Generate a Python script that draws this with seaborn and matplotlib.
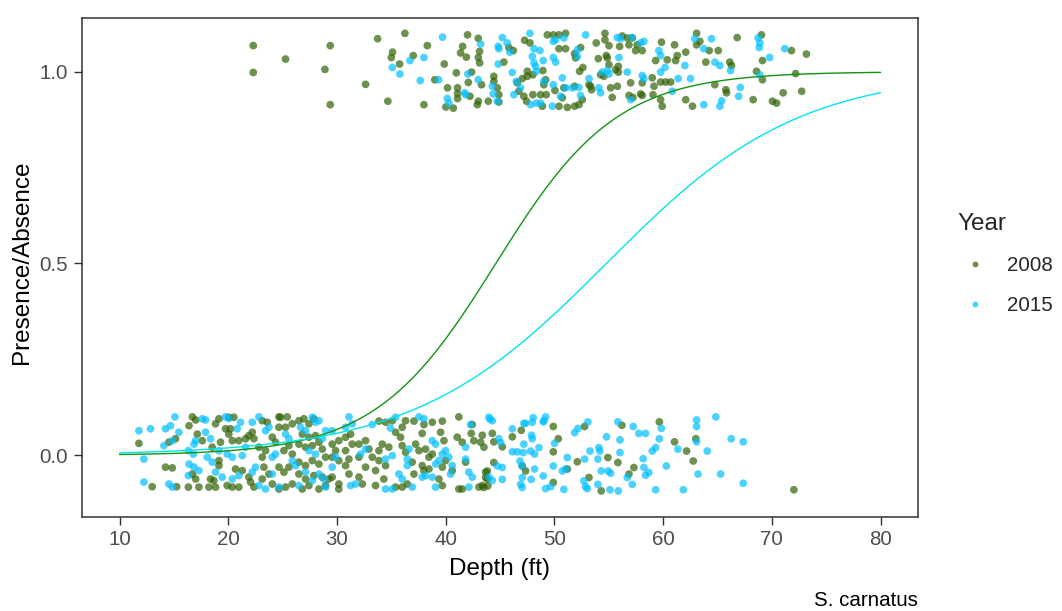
import numpy as np
import pandas as pd
import matplotlib
matplotlib.use("Agg")
import matplotlib.pyplot as plt
import seaborn as sns
from matplotlib.lines import Line2D

# ---- survey data: depth (ft) and jittered presence/absence value ----
years = ["2008", "2015"]

present_2008 = [
    (22.30, 1.068), (29.38, 1.068), (25.27, 1.033), (22.30, 0.998), (28.89, 1.006),
    (32.63, 0.967), (29.38, 0.914), (33.74, 1.086), (36.25, 1.100), (34.68, 0.923),
    (35.11, 1.051), (35.00, 1.037), (37.02, 1.042), (35.76, 1.020), (38.31, 1.068),
    (38.00, 0.914), (39.87, 1.020), (40.98, 0.997), (42.01, 1.096), (41.56, 1.066),
    (41.37, 1.049), (41.90, 1.038), (43.00, 1.087), (43.12, 1.053), (43.00, 1.037),
    (43.12, 1.023), (42.38, 0.999), (39.00, 0.979), (40.17, 0.958), (41.09, 0.958),
    (41.09, 0.943), (41.09, 0.930), (42.08, 0.972), (43.30, 0.966), (42.23, 0.936),
    (43.00, 0.923), (43.92, 0.923), (40.02, 0.908), (40.70, 0.905), (42.91, 0.914),
    (44.43, 0.988), (44.43, 0.975), (44.75, 0.958), (44.89, 0.940), (44.89, 0.921),
    (45.81, 1.063), (46.22, 1.055), (47.26, 1.082), (47.75, 1.075), (49.35, 1.096),
    (49.90, 1.096), (50.42, 1.096), (51.03, 1.100), (50.42, 1.060), (51.03, 1.060),
    (51.86, 1.047), (45.35, 1.025), (47.51, 1.001), (48.02, 0.992), (48.94, 1.003),
    (47.05, 0.982), (46.58, 0.971), (47.51, 0.988), (49.19, 0.979), (49.03, 0.966),
    (46.73, 0.949), (47.19, 0.936), (48.02, 0.940), (48.73, 0.940), (49.25, 0.940),
    (50.05, 0.951), (50.73, 0.932), (50.87, 0.958), (51.86, 0.962), (47.44, 0.923),
    (48.89, 0.910), (50.42, 0.910), (51.19, 0.907), (51.86, 0.910), (51.95, 1.036),
    (54.65, 1.100), (54.65, 1.083), (53.85, 1.075), (52.41, 1.063), (56.24, 1.093),
    (56.70, 1.088), (57.16, 1.088), (56.00, 1.066), (56.86, 1.070), (57.62, 1.070),
    (55.02, 1.068), (59.85, 1.077), (57.47, 1.055), (58.08, 1.055), (61.05, 1.070),
    (62.08, 1.051), (61.30, 1.042), (63.08, 1.100), (63.38, 1.079), (63.08, 1.070),
    (64.24, 1.055), (65.07, 1.055), (66.81, 1.089), (69.05, 1.096), (71.81, 1.055),
    (54.04, 1.034), (54.77, 1.042), (54.87, 1.036), (55.02, 1.018), (55.88, 1.014),
    (59.31, 1.029), (60.38, 1.031), (61.15, 1.029), (63.93, 1.025), (66.13, 1.025),
    (66.29, 1.016), (69.14, 1.029), (52.62, 1.011), (52.32, 1.001), (54.25, 0.992),
    (54.55, 0.988), (55.63, 1.005), (55.88, 0.999), (57.01, 0.971), (58.08, 0.971),
    (59.00, 0.984), (59.77, 0.973), (60.23, 0.973), (60.69, 0.973), (59.16, 0.962),
    (53.33, 0.962), (53.42, 0.953), (55.17, 0.958), (55.79, 0.962), (55.32, 0.933),
    (56.86, 0.938), (57.22, 0.933), (57.93, 0.942), (58.08, 0.938), (59.07, 0.940),
    (59.77, 0.927), (59.92, 0.910), (62.08, 0.927), (62.70, 0.910), (64.76, 0.966),
    (65.77, 0.953), (65.83, 0.945), (68.28, 0.927), (68.59, 1.001), (69.14, 0.979),
    (70.06, 0.923), (70.43, 0.918), (71.04, 0.945), (72.75, 0.949), (52.26, 0.914),
    (52.57, 0.927), (53.18, 0.966), (73.18, 1.046), (72.19, 0.995),
]

absent_2008 = [
    (11.78, 0.031), (13.00, -0.082), (14.23, -0.031), (14.85, -0.033), (14.54, 0.034),
    (15.15, 0.043), (16.39, 0.077), (16.70, 0.100), (16.33, -0.083), (15.25, -0.082),
    (17.00, -0.062), (16.70, -0.049), (17.00, 0.092), (17.15, 0.055), (17.61, 0.038),
    (17.30, -0.083), (18.37, -0.062), (18.67, -0.066), (18.22, -0.083), (18.83, -0.083),
    (18.83, 0.082), (19.14, 0.095), (18.52, 0.021), (19.29, 0.034), (19.14, -0.014),
    (19.14, -0.027), (19.75, 0.069), (20.21, 0.069), (20.05, 0.055), (20.37, 0.038),
    (20.05, 0.099), (20.51, 0.099), (20.97, 0.038), (21.59, 0.043), (20.67, -0.036),
    (21.29, -0.040), (20.37, -0.083), (20.97, -0.083), (19.90, -0.079), (21.89, 0.051),
    (22.21, 0.060), (22.36, 0.043), (21.89, -0.057), (22.05, -0.070), (22.36, -0.083),
    (23.13, 0.090), (23.59, 0.086), (22.82, 0.021), (23.43, 0.012), (23.13, -0.005),
    (23.28, -0.031), (23.74, -0.049), (23.13, -0.062), (24.05, 0.047), (24.35, 0.034),
    (24.66, 0.100), (24.81, 0.099), (25.42, 0.100), (24.66, 0.073), (25.27, 0.073),
    (25.89, 0.082), (25.12, 0.012), (25.58, 0.025), (25.89, 0.003), (24.66, -0.031),
    (25.12, -0.044), (25.58, -0.031), (24.05, -0.075), (24.66, -0.088), (25.27, -0.083),
    (25.89, -0.075), (26.50, 0.090), (26.96, 0.095), (27.42, 0.082), (27.88, 0.095),
    (26.81, 0.055), (27.42, 0.047), (28.03, 0.051), (26.50, 0.029), (27.11, 0.021),
    (27.73, 0.025), (28.34, 0.034), (28.65, 0.016), (26.50, -0.018), (27.11, -0.027),
    (27.73, -0.014), (28.34, -0.023), (28.95, -0.005), (26.50, -0.049), (27.11, -0.062),
    (27.88, -0.053), (28.65, -0.057), (26.81, -0.088), (27.42, -0.079), (28.34, -0.088),
    (28.95, -0.079),
    (41.21, 0.100), (39.69, 0.089), (38.77, 0.086), (38.00, 0.080), (37.08, 0.089),
    (36.31, 0.090), (35.09, 0.090), (34.47, 0.086), (33.86, 0.089), (42.44, 0.080),
    (36.00, 0.073), (35.39, 0.060), (35.85, 0.047), (37.84, 0.057), (39.53, 0.060),
    (39.84, 0.038), (41.06, 0.047), (41.52, 0.034), (42.35, 0.057), (42.59, 0.038),
    (43.21, 0.034), (43.52, 0.021), (37.23, 0.029), (37.54, 0.012), (38.15, 0.016),
    (36.00, 0.025), (36.31, 0.008), (34.77, 0.021), (34.17, 0.029), (33.86, 0.012),
    (32.63, 0.038), (32.02, 0.029), (32.94, 0.016), (30.79, 0.047), (31.25, 0.055),
    (30.17, 0.038), (29.56, 0.029), (29.87, 0.012), (31.40, 0.029), (30.79, 0.012),
    (33.25, -0.005), (33.86, -0.014), (32.02, -0.005), (31.10, -0.010), (30.17, -0.014),
    (29.56, -0.005), (34.47, -0.027), (33.55, -0.040), (32.63, -0.031), (37.84, -0.027),
    (38.00, -0.040), (38.46, -0.036), (36.92, -0.018), (39.69, -0.031), (39.99, -0.014),
    (40.60, -0.040), (41.83, -0.018), (43.67, -0.044), (43.83, -0.062), (43.37, -0.079),
    (43.06, -0.083), (41.21, -0.088), (41.52, -0.088), (39.69, -0.079), (39.38, -0.062),
    (37.08, -0.049), (36.47, -0.075), (36.00, -0.083), (35.39, -0.083), (33.55, -0.079),
    (34.31, -0.062), (32.02, -0.057), (32.33, -0.075), (30.17, -0.088), (30.17, -0.075),
    (29.56, -0.057), (29.25, -0.062), (30.79, -0.027), (31.10, -0.049), (38.46, -0.005),
    (38.77, 0.003),
    (44.29, 0.057), (44.43, 0.035), (43.37, 0.052), (45.21, 0.022), (46.13, 0.048),
    (46.95, 0.065), (49.90, 0.075), (50.36, 0.043), (49.90, 0.009), (52.78, 0.075),
    (56.21, 0.078), (59.65, 0.087), (52.11, -0.017), (51.19, -0.036), (47.04, -0.028),
    (47.35, -0.041), (44.43, -0.019), (43.83, -0.041), (43.67, -0.058), (43.88, -0.080),
    (43.51, -0.084), (49.90, -0.071), (53.18, -0.058), (54.31, -0.093), (54.92, -0.006),
    (55.84, -0.019), (56.86, -0.049), (57.31, -0.032), (61.05, 0.035), (62.16, 0.011),
    (62.77, -0.015), (63.01, 0.043), (72.03, -0.090),
]

present_2015 = [
    (39.71, 1.090), (36.71, 1.029), (38.00, 1.037), (35.09, 1.011), (35.79, 0.994),
    (37.66, 0.977), (39.35, 0.979), (43.21, 1.072), (42.04, 0.994), (43.00, 0.979),
    (41.74, 0.945), (40.15, 0.930), (40.29, 0.918), (44.84, 1.066), (44.84, 1.020),
    (44.29, 0.962), (44.75, 0.923), (45.21, 1.089), (44.89, 1.060), (45.65, 1.075),
    (45.90, 1.051), (47.75, 1.100), (48.12, 1.060), (47.97, 1.040), (48.12, 1.023),
    (48.27, 1.014), (48.34, 1.001), (48.67, 1.055), (48.97, 1.029), (49.90, 1.079),
    (50.11, 1.083), (50.87, 1.088), (49.90, 1.037), (50.11, 1.025), (46.13, 0.998),
    (46.50, 0.975), (46.89, 0.958), (46.27, 0.940), (47.81, 0.914), (48.34, 0.918),
    (48.73, 0.918), (49.81, 0.910), (49.03, 0.975), (49.90, 0.966), (50.73, 0.984),
    (51.03, 0.958), (51.65, 0.958), (52.26, 0.959), (50.57, 0.936), (44.37, 0.942),
    (41.83, 0.940), (52.87, 1.096), (55.79, 1.089), (56.09, 1.086), (57.16, 1.089),
    (57.93, 1.075), (58.23, 1.079), (59.61, 1.055), (59.77, 1.042), (62.91, 1.086),
    (63.74, 1.060), (64.45, 1.086), (68.74, 1.088), (68.89, 1.075), (68.84, 1.063),
    (71.19, 1.060), (69.80, 1.037), (52.11, 1.040), (52.11, 1.057), (55.94, 1.037),
    (54.40, 0.999), (54.87, 1.003), (55.02, 0.994), (56.70, 0.999), (58.08, 0.990),
    (58.23, 0.982), (59.77, 0.999), (60.17, 1.011), (61.39, 0.982), (62.00, 1.016),
    (62.52, 0.982), (64.76, 1.025), (65.22, 1.016), (66.20, 1.003), (68.89, 0.992),
    (67.10, 0.959), (66.95, 0.936), (53.18, 0.982), (54.09, 0.958), (54.25, 0.945),
    (52.41, 0.938), (57.01, 0.927), (60.84, 0.949), (63.74, 0.914), (65.22, 0.910),
    (65.38, 0.924),
]

absent_2015 = [
    (11.78, 0.064), (12.85, 0.069), (12.24, -0.010), (12.24, -0.070), (14.23, 0.069),
    (14.69, 0.077), (14.08, 0.025), (14.85, 0.038), (14.54, -0.075), (14.85, -0.083),
    (15.09, 0.100), (15.46, 0.060), (16.33, 0.012), (16.79, 0.003), (16.33, -0.053),
    (16.39, -0.023), (16.85, -0.031), (17.00, 0.038), (16.85, 0.029), (17.61, 0.095),
    (17.91, 0.092), (17.30, -0.040), (17.91, 0.060), (18.37, 0.043), (18.07, -0.005),
    (18.52, -0.018), (19.14, 0.012), (18.83, -0.044), (19.44, -0.057), (19.75, 0.100),
    (20.05, 0.096), (19.90, 0.003), (20.37, -0.005), (20.82, 0.069), (21.13, 0.086),
    (21.29, -0.001), (21.59, 0.021), (22.21, 0.086), (22.82, 0.100), (22.51, -0.031),
    (22.21, -0.044), (20.97, -0.053), (20.37, -0.062), (22.82, -0.079), (23.43, 0.064),
    (23.74, 0.073), (24.05, -0.005), (24.35, 0.003), (24.05, -0.049), (24.66, -0.083),
    (23.43, -0.088), (25.27, 0.055), (25.58, 0.043), (25.89, -0.014), (26.19, -0.027),
    (26.65, 0.073), (27.11, 0.064), (27.73, 0.099), (28.03, 0.086), (27.42, 0.012),
    (28.03, 0.003), (27.11, -0.044), (27.73, -0.066), (26.50, -0.079), (28.34, -0.049),
    (28.80, -0.062), (28.95, -0.083), (28.65, 0.043), (28.95, 0.064), (28.34, 0.090),
    (31.10, 0.100), (33.25, 0.080), (34.92, 0.071), (35.39, 0.099), (37.54, 0.100),
    (38.00, 0.095), (38.77, 0.038), (39.07, 0.029), (39.99, 0.012), (39.69, 0.003),
    (40.29, -0.005), (41.83, 0.021), (41.83, -0.010), (42.29, 0.080), (43.98, 0.099),
    (44.29, 0.090), (44.89, 0.043), (46.13, 0.069), (47.35, 0.083), (47.96, 0.086),
    (49.03, 0.090), (49.19, 0.100), (36.62, 0.016), (36.47, -0.010), (36.47, -0.027),
    (35.09, -0.001), (34.47, -0.010), (35.70, -0.049), (36.00, -0.062), (39.07, -0.023),
    (39.38, -0.014), (37.84, -0.057), (38.15, -0.053), (40.60, -0.027), (40.45, -0.049),
    (42.13, -0.044), (42.44, -0.057), (43.98, -0.057), (44.29, -0.066), (31.25, -0.079),
    (31.71, -0.075), (34.47, -0.088), (35.09, -0.088), (36.92, -0.083), (38.77, -0.057),
    (39.07, -0.083), (42.13, -0.083), (32.63, 0.016), (32.17, 0.003), (29.87, -0.005),
    (29.56, -0.031), (31.40, 0.082), (30.79, 0.073), (29.56, 0.064),
    (44.07, 0.094), (47.19, 0.083), (48.05, 0.098), (48.97, 0.087), (47.90, 0.052),
    (47.96, 0.043), (47.19, 0.029), (46.58, 0.009), (46.13, 0.009), (47.14, 0.007),
    (47.81, 0.011), (48.18, 0.003), (48.58, 0.020), (45.05, 0.033), (46.83, -0.015),
    (47.04, -0.028), (44.75, -0.028), (45.21, -0.032), (45.21, -0.063), (47.04, -0.058),
    (46.89, -0.076), (47.04, -0.084), (47.86, -0.063), (48.18, -0.036), (48.97, -0.054),
    (49.19, -0.087), (49.65, -0.082), (49.90, -0.028), (50.87, -0.089), (50.73, -0.041),
    (51.03, -0.036), (51.19, -0.006), (50.02, 0.031), (51.86, 0.059), (52.17, 0.070),
    (53.08, 0.087), (52.78, -0.010), (52.72, -0.067), (52.87, -0.082), (53.03, -0.087),
    (53.27, 0.011), (54.00, -0.010), (54.09, 0.020), (54.18, 0.011), (54.79, 0.048),
    (54.31, -0.041), (54.00, -0.076), (54.95, -0.041), (55.17, -0.047), (55.11, -0.090),
    (55.88, -0.093), (56.03, 0.040), (56.03, 0.007), (55.84, 0.087), (57.25, 0.075),
    (57.77, 0.057), (58.38, 0.057), (57.16, -0.076), (56.70, -0.058), (58.23, -0.032),
    (58.69, -0.045), (58.38, -0.052), (58.17, -0.009), (59.00, 0.011), (59.31, 0.020),
    (59.65, 0.043), (59.84, 0.070), (60.30, -0.028), (59.31, -0.090), (61.36, 0.016),
    (61.86, -0.090), (63.08, 0.092), (63.08, 0.075), (63.08, 0.035), (63.21, -0.049),
    (64.06, 0.011), (64.85, 0.100), (65.29, -0.049), (66.26, 0.043), (67.37, 0.035),
    (67.37, -0.073),
]

# binomial GLM fit per year: logit(p) = intercept + slope * depth
glm_intercept = [-8.03, -6.19]
glm_slope = [0.180, 0.113]
depth_range = [10, 80]

point_colors = {"2008": "#316205", "2015": "#00BFFF"}
curve_colors = {"2008": "#129412", "2015": "#00E5EE"}

# ---- assemble tables ----
rows = []
for year, groups in (("2008", (absent_2008, present_2008)),
                     ("2015", (absent_2015, present_2015))):
    for grp in groups:
        for d, v in grp:
            rows.append({"Depth": d, "PA": v, "Year": year})
points = pd.DataFrame(rows)

curve_rows = []
grid = np.linspace(depth_range[0], depth_range[1], 300)
for year, b0, b1 in zip(years, glm_intercept, glm_slope):
    p = 1.0 / (1.0 + np.exp(-(b0 + b1 * grid)))
    curve_rows.append(pd.DataFrame({"Depth": grid, "Fit": p, "Year": year}))
curves = pd.concat(curve_rows, ignore_index=True)

# ---- figure ----
sns.set_style("ticks")
plt.rcParams["font.family"] = ["Liberation Sans", "DejaVu Sans"]

W, H = 1062, 611
fig = plt.figure(figsize=(W / 100, H / 100), dpi=100)
ax = fig.add_axes([81.5 / W, 1 - 517 / H, (917.5 - 81.5) / W, (517 - 18) / H])

sns.scatterplot(data=points, x="Depth", y="PA", hue="Year", hue_order=years,
                palette=point_colors, alpha=0.7, s=31, linewidth=0,
                legend=False, ax=ax, zorder=2)
sns.lineplot(data=curves, x="Depth", y="Fit", hue="Year", hue_order=years,
             palette=curve_colors, linewidth=1.0, legend=False, ax=ax, zorder=3)

ax.set_xlim(6.5, 83.4)
ax.set_ylim(-0.161, 1.14)
ax.set_xticks([10, 20, 30, 40, 50, 60, 70, 80])
ax.set_yticks([0.0, 0.5, 1.0])
ax.set_yticklabels(["0.0", "0.5", "1.0"])

for sp in ax.spines.values():
    sp.set_visible(True)
    sp.set_color("#333333")
    sp.set_linewidth(1.1)
ax.tick_params(axis="both", which="major", length=5.5, width=1.0,
               color="#333333", labelcolor="#4D4D4D", labelsize=14.8, pad=4)

ax.set_xlabel("Depth (ft)", fontsize=17.5, color="black")
ax.set_ylabel("Presence/Absence", fontsize=17.5, color="black")
ax.xaxis.set_label_coords(0.5, (517 - 569) / 499)
ax.yaxis.set_label_coords((22 - 81.5) / 836, 0.51)
ax.xaxis.label.set_va("center")
ax.yaxis.label.set_va("center")

fig.text(918 / W, 1 - 601 / H, "S. carnatus", ha="right", va="center",
         fontsize=14.8, color="black")

handles = [Line2D([0], [0], marker="o", linestyle="", markersize=4.2,
                  markerfacecolor=point_colors[y], markeredgewidth=0, alpha=0.7)
           for y in years]
fig.legend(handles, years, title="Year", loc="upper left",
           bbox_to_anchor=(957 / W, 1 - 213 / H), frameon=False,
           borderaxespad=0, borderpad=0, handlelength=1.76, handletextpad=0.66,
           labelspacing=1.02, alignment="left", fontsize=14.8, title_fontsize=17.5)

fig.savefig("out.png", dpi=100)
